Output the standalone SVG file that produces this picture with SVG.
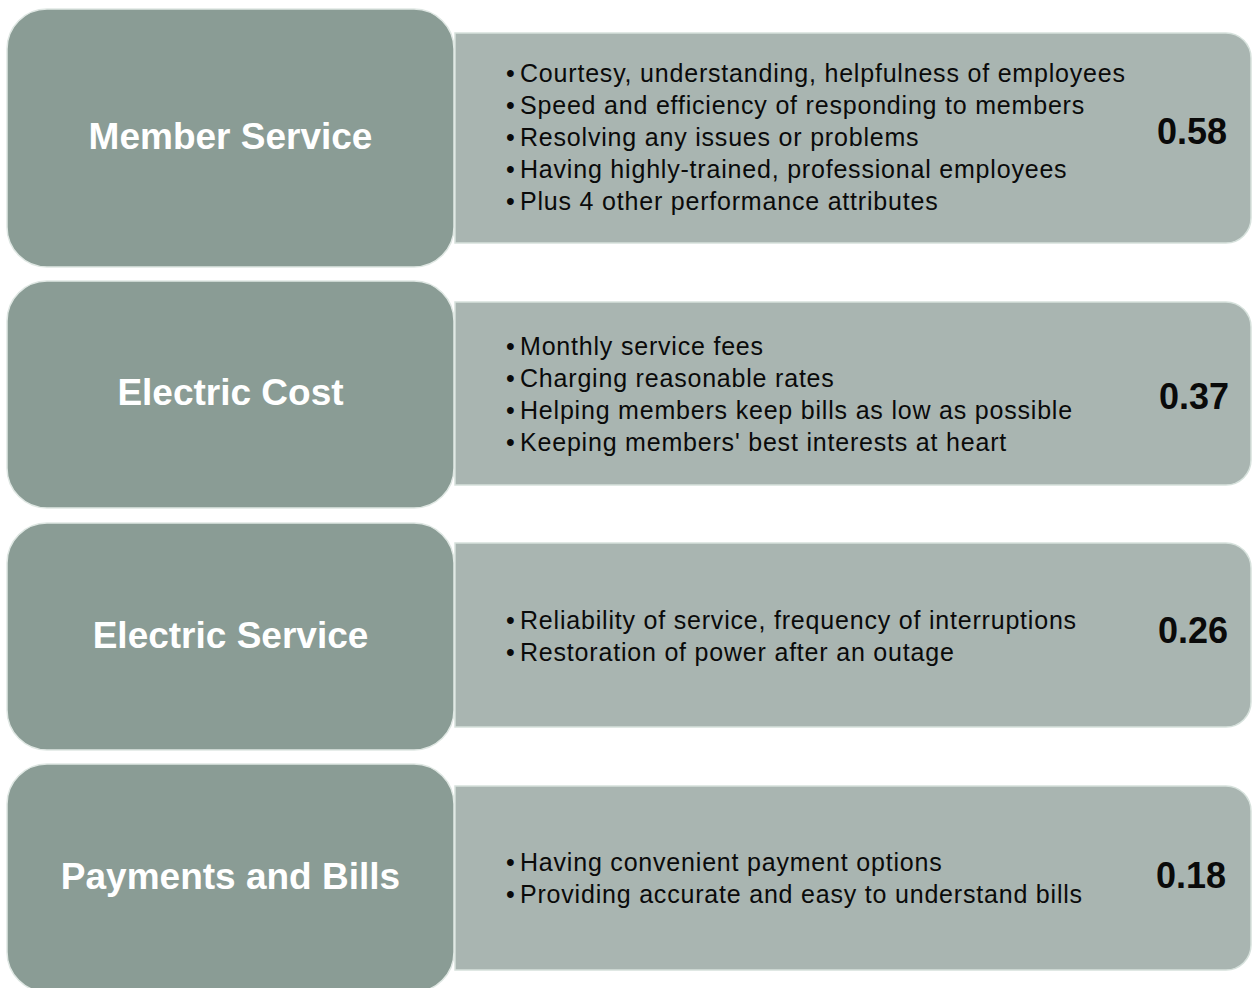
<svg xmlns="http://www.w3.org/2000/svg" width="1252" height="988" viewBox="0 0 1252 988">
  <style>
    .cat { fill: #8a9c95; stroke: #dfe7e3; stroke-width: 1.5; }
    .det { fill: #a9b5b1; stroke: #d6e1dc; stroke-width: 1.5; }
    .title { font-family: "Liberation Sans", Arial, sans-serif; font-weight: bold; font-size: 37px; fill: #ffffff; text-anchor: middle; }
    .item { font-family: "Liberation Sans", Arial, sans-serif; font-size: 25px; letter-spacing: 0.8px; fill: #0a0a0a; }
    .score { font-family: "Liberation Sans", Arial, sans-serif; font-weight: bold; font-size: 36px; fill: #0a0a0a; text-anchor: end; }
  </style>
  <rect width="1252" height="988" fill="#ffffff"/>

  <!-- Member Service -->
  <g id="member-service">
    <path class="det" d="M455,33 H1226 A25,25 0 0 1 1251,58 V218 A25,25 0 0 1 1226,243 H455 Z"/>
    <rect class="cat" x="7" y="9" width="447" height="258" rx="40" ry="40"/>
    <text class="title" x="230.5" y="149">Member Service</text>
    <text class="item">
      <tspan x="506" y="82">•</tspan><tspan x="520" y="82">Courtesy, understanding, helpfulness of employees</tspan>
      <tspan x="506" y="114">•</tspan><tspan x="520" y="114">Speed and efficiency of responding to members</tspan>
      <tspan x="506" y="146">•</tspan><tspan x="520" y="146">Resolving any issues or problems</tspan>
      <tspan x="506" y="178">•</tspan><tspan x="520" y="178">Having highly-trained, professional employees</tspan>
      <tspan x="506" y="210">•</tspan><tspan x="520" y="210">Plus 4 other performance attributes</tspan>
    </text>
    <text class="score" x="1227" y="144">0.58</text>
  </g>

  <!-- Electric Cost -->
  <g id="electric-cost">
    <path class="det" d="M455,302 H1226 A25,25 0 0 1 1251,327 V460 A25,25 0 0 1 1226,485 H455 Z"/>
    <rect class="cat" x="7" y="281" width="447" height="227" rx="40" ry="40"/>
    <text class="title" x="230.5" y="405">Electric Cost</text>
    <text class="item">
      <tspan x="506" y="355">•</tspan><tspan x="520" y="355">Monthly service fees</tspan>
      <tspan x="506" y="387">•</tspan><tspan x="520" y="387">Charging reasonable rates</tspan>
      <tspan x="506" y="419">•</tspan><tspan x="520" y="419">Helping members keep bills as low as possible</tspan>
      <tspan x="506" y="451">•</tspan><tspan x="520" y="451">Keeping members' best interests at heart</tspan>
    </text>
    <text class="score" x="1229" y="409">0.37</text>
  </g>

  <!-- Electric Service -->
  <g id="electric-service">
    <path class="det" d="M455,543 H1226 A25,25 0 0 1 1251,568 V702 A25,25 0 0 1 1226,727 H455 Z"/>
    <rect class="cat" x="7" y="523" width="447" height="227" rx="40" ry="40"/>
    <text class="title" x="230.5" y="648">Electric Service</text>
    <text class="item">
      <tspan x="506" y="629">•</tspan><tspan x="520" y="629">Reliability of service, frequency of interruptions</tspan>
      <tspan x="506" y="661">•</tspan><tspan x="520" y="661">Restoration of power after an outage</tspan>
    </text>
    <text class="score" x="1228" y="643">0.26</text>
  </g>

  <!-- Payments and Bills -->
  <g id="payments-bills">
    <path class="det" d="M455,786 H1226 A25,25 0 0 1 1251,811 V945 A25,25 0 0 1 1226,970 H455 Z"/>
    <rect class="cat" x="7" y="764" width="447" height="228" rx="40" ry="40"/>
    <text class="title" x="230.5" y="889">Payments and Bills</text>
    <text class="item">
      <tspan x="506" y="871">•</tspan><tspan x="520" y="871">Having convenient payment options</tspan>
      <tspan x="506" y="903">•</tspan><tspan x="520" y="903">Providing accurate and easy to understand bills</tspan>
    </text>
    <text class="score" x="1226" y="888">0.18</text>
  </g>

  <g id="connectors"/>
</svg>
